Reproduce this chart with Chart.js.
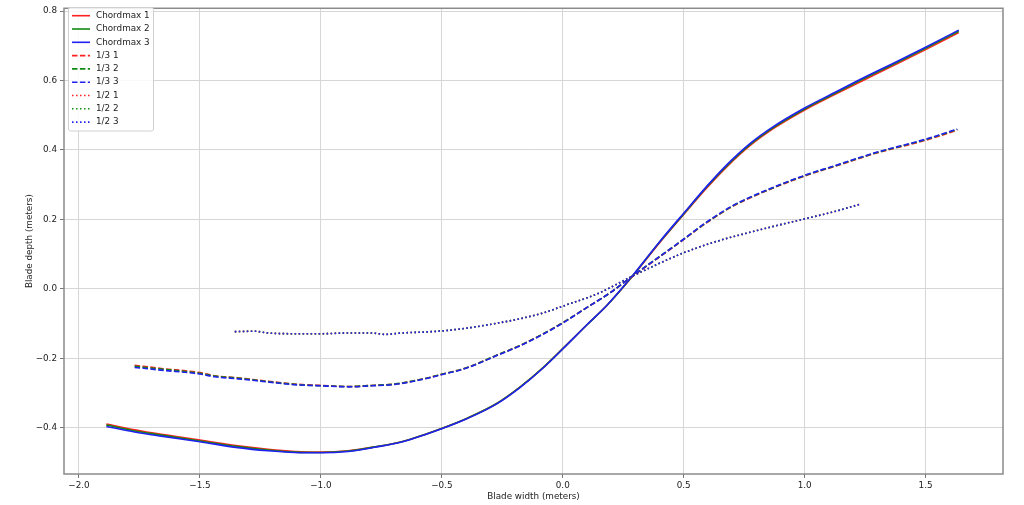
<!DOCTYPE html>
<html>
<head>
<script src="https://cdn.jsdelivr.net/npm/chart.js"></script>
<style>
  body { margin: 0; background: #fff; }
  #wrap { width: 1024px; height: 505px; }
</style>
</head>
<body>
<div id="wrap"><canvas id="myChart" width="1024" height="505"></canvas></div>
<script>
// tick positions
const xTicks = [-2.0, -1.5, -1.0, -0.5, 0.0, 0.5, 1.0, 1.5];
const yTicks = [-0.4, -0.2, 0.0, 0.2, 0.4, 0.6, 0.8];

// Chordmax (solid)
const chordX = [-1.887, -1.77, -1.66, -1.5, -1.343, -1.219, -1.108, -0.998, -0.887, -0.777, -0.666, -0.57, -0.501, -0.397, -0.273, -0.177, -0.08, 0.003, 0.099, 0.182, 0.286, 0.403, 0.5, 0.596, 0.679, 0.775, 0.872, 1.0, 1.12, 1.258, 1.382, 1.5, 1.637];
const chord1 = [-0.389, -0.406, -0.419, -0.435, -0.452, -0.462, -0.468, -0.470, -0.466, -0.455, -0.440, -0.419, -0.402, -0.373, -0.330, -0.283, -0.226, -0.170, -0.104, -0.048, 0.034, 0.135, 0.214, 0.291, 0.352, 0.413, 0.462, 0.515, 0.558, 0.606, 0.648, 0.689, 0.738];
const chord2 = [-0.392, -0.409, -0.421, -0.438, -0.454, -0.464, -0.470, -0.471, -0.467, -0.455, -0.440, -0.419, -0.402, -0.373, -0.330, -0.283, -0.226, -0.170, -0.104, -0.048, 0.035, 0.137, 0.216, 0.294, 0.355, 0.416, 0.465, 0.518, 0.561, 0.610, 0.652, 0.693, 0.742];
const chord3 = [-0.396, -0.412, -0.424, -0.440, -0.457, -0.466, -0.471, -0.472, -0.468, -0.456, -0.441, -0.420, -0.403, -0.374, -0.331, -0.284, -0.227, -0.171, -0.104, -0.048, 0.036, 0.138, 0.218, 0.296, 0.358, 0.419, 0.468, 0.521, 0.564, 0.613, 0.655, 0.696, 0.745];

// 1/3 (dashed)
const thirdX = [-1.77, -1.66, -1.5, -1.439, -1.343, -1.219, -1.108, -0.998, -0.887, -0.791, -0.694, -0.57, -0.501, -0.397, -0.273, -0.177, -0.08, 0.003, 0.099, 0.196, 0.286, 0.486, 0.596, 0.706, 0.817, 1.0, 1.148, 1.286, 1.5, 1.631];
const third1 = [-0.220, -0.229, -0.241, -0.250, -0.256, -0.266, -0.274, -0.278, -0.281, -0.278, -0.274, -0.258, -0.246, -0.227, -0.191, -0.163, -0.129, -0.096, -0.054, -0.011, 0.035, 0.135, 0.191, 0.239, 0.275, 0.325, 0.358, 0.389, 0.428, 0.457];
const third2 = [-0.223, -0.231, -0.243, -0.251, -0.257, -0.267, -0.275, -0.279, -0.281, -0.278, -0.274, -0.258, -0.246, -0.227, -0.191, -0.163, -0.129, -0.096, -0.054, -0.011, 0.036, 0.136, 0.192, 0.240, 0.276, 0.326, 0.359, 0.390, 0.430, 0.459];
const third3 = [-0.226, -0.234, -0.245, -0.253, -0.259, -0.268, -0.276, -0.279, -0.282, -0.279, -0.275, -0.259, -0.247, -0.228, -0.192, -0.164, -0.130, -0.097, -0.054, -0.011, 0.036, 0.136, 0.193, 0.241, 0.277, 0.327, 0.360, 0.391, 0.431, 0.460];

// 1/2 (dotted)
const halfX = [-1.356, -1.274, -1.219, -1.108, -0.998, -0.887, -0.791, -0.736, -0.666, -0.57, -0.501, -0.397, -0.273, -0.177, -0.08, 0.003, 0.099, 0.15, 0.286, 0.486, 0.637, 0.775, 0.9, 0.99, 1.12, 1.23];
const half1 = [-0.123, -0.122, -0.127, -0.129, -0.129, -0.127, -0.127, -0.131, -0.127, -0.124, -0.121, -0.113, -0.099, -0.086, -0.069, -0.049, -0.026, -0.012, 0.036, 0.100, 0.137, 0.163, 0.185, 0.200, 0.222, 0.244];
const half2 = [-0.123, -0.122, -0.127, -0.129, -0.129, -0.127, -0.127, -0.131, -0.127, -0.124, -0.121, -0.113, -0.099, -0.086, -0.069, -0.049, -0.026, -0.012, 0.036, 0.100, 0.137, 0.163, 0.185, 0.200, 0.222, 0.244];
const half3 = [-0.123, -0.122, -0.127, -0.129, -0.129, -0.127, -0.127, -0.131, -0.127, -0.124, -0.121, -0.113, -0.099, -0.086, -0.069, -0.049, -0.026, -0.012, 0.036, 0.100, 0.137, 0.163, 0.185, 0.200, 0.222, 0.244];

const labels = ['Chordmax 1', 'Chordmax 2', 'Chordmax 3', '1/3 1', '1/3 2', '1/3 3', '1/2 1', '1/2 2', '1/2 3'];
const colors = ['#ff2020', '#108a10', '#2020f0'];
const dashes = [[], [5.5, 2.4], [1.5, 2.5]];

function pts(xs, ys) {
  return xs.map((x, i) => ({ x: x, y: ys[i] }));
}

const series = [
  pts(chordX, chord1), pts(chordX, chord2), pts(chordX, chord3),
  pts(thirdX, third1), pts(thirdX, third2), pts(thirdX, third3),
  pts(halfX, half1), pts(halfX, half2), pts(halfX, half3)
];

const datasets = series.map((d, i) => ({
  label: labels[i],
  data: d,
  borderColor: colors[i % 3],
  backgroundColor: colors[i % 3],
  borderDash: dashes[Math.floor(i / 3)],
  borderWidth: 1.6,
  pointRadius: 0,
  cubicInterpolationMode: 'monotone',
  fill: false,
  order: 9 - i
}));

const fontFam = "'DejaVu Sans', sans-serif";
const fmt = v => v.toFixed(1).replace('-', '\u2212');

// frame around the plot area (matplotlib spines)
const framePlugin = {
  id: 'frame',
  afterDatasetsDraw(chart) {
    const a = chart.chartArea;
    const ctx = chart.ctx;
    ctx.save();
    ctx.strokeStyle = '#8a8a8a';
    ctx.lineWidth = 1.5;
    ctx.strokeRect(a.left, a.top, a.right - a.left, a.bottom - a.top);
    ctx.restore();
  }
};

// legend drawn inside the axes, upper left
const legendPlugin = {
  id: 'innerLegend',
  afterDraw(chart) {
    const ctx = chart.ctx;
    const ds = chart.data.datasets;
    ctx.save();
    ctx.fillStyle = 'rgba(255,255,255,0.85)';
    ctx.strokeStyle = '#d0d0d0';
    ctx.lineWidth = 1;
    ctx.beginPath();
    ctx.roundRect(68.5, 7.5, 85, 123.5, 2);
    ctx.fill();
    ctx.stroke();
    ctx.font = '8.8px ' + fontFam;
    ctx.textBaseline = 'middle';
    ds.forEach((d, i) => {
      const y = 15.7 + i * 13.3;
      ctx.strokeStyle = d.borderColor;
      ctx.lineWidth = d.borderWidth;
      ctx.setLineDash(d.borderDash);
      ctx.beginPath();
      ctx.moveTo(72, y);
      ctx.lineTo(90, y);
      ctx.stroke();
      ctx.setLineDash([]);
      ctx.fillStyle = '#222';
      ctx.fillText(d.label, 96, y);
    });
    ctx.restore();
  }
};

const ctx = document.getElementById('myChart');
new Chart(ctx, {
  type: 'line',
  data: { datasets: datasets },
  options: {
    responsive: false,
    animation: false,
    layout: { padding: { left: 0, right: 21, top: 5, bottom: 0 } },
    plugins: {
      legend: { display: false },
      tooltip: { enabled: false }
    },
    scales: {
      x: {
        type: 'linear',
        min: -2.062,
        max: 1.82,
        afterBuildTicks: s => { s.ticks = xTicks.map(v => ({ value: v })); },
        afterFit: s => { s.height = 31; },
        border: { display: false },
        grid: { color: '#d6d6d6', lineWidth: 1, tickLength: 4, tickColor: '#777' },
        ticks: {
          padding: 2,
          maxRotation: 0,
          color: '#222',
          font: { family: fontFam, size: 8.8 },
          callback: v => fmt(v)
        },
        title: {
          display: true,
          text: 'Blade width (meters)',
          color: '#222',
          font: { family: fontFam, size: 8.8 },
          padding: { top: 0, bottom: 3 }
        }
      },
      y: {
        type: 'linear',
        min: -0.533,
        max: 0.808,
        afterBuildTicks: s => { s.ticks = yTicks.map(v => ({ value: v })); },
        afterFit: s => { s.width = 64; },
        border: { display: false },
        grid: { color: '#d6d6d6', lineWidth: 1, tickLength: 4, tickColor: '#777' },
        ticks: {
          padding: 3,
          color: '#222',
          font: { family: fontFam, size: 8.8 },
          callback: v => fmt(v)
        },
        title: {
          display: true,
          text: 'Blade depth (meters)',
          color: '#222',
          font: { family: fontFam, size: 8.8 },
          padding: { top: 24, bottom: 0 }
        }
      }
    }
  },
  plugins: [framePlugin, legendPlugin]
});
</script>
</body>
</html>
